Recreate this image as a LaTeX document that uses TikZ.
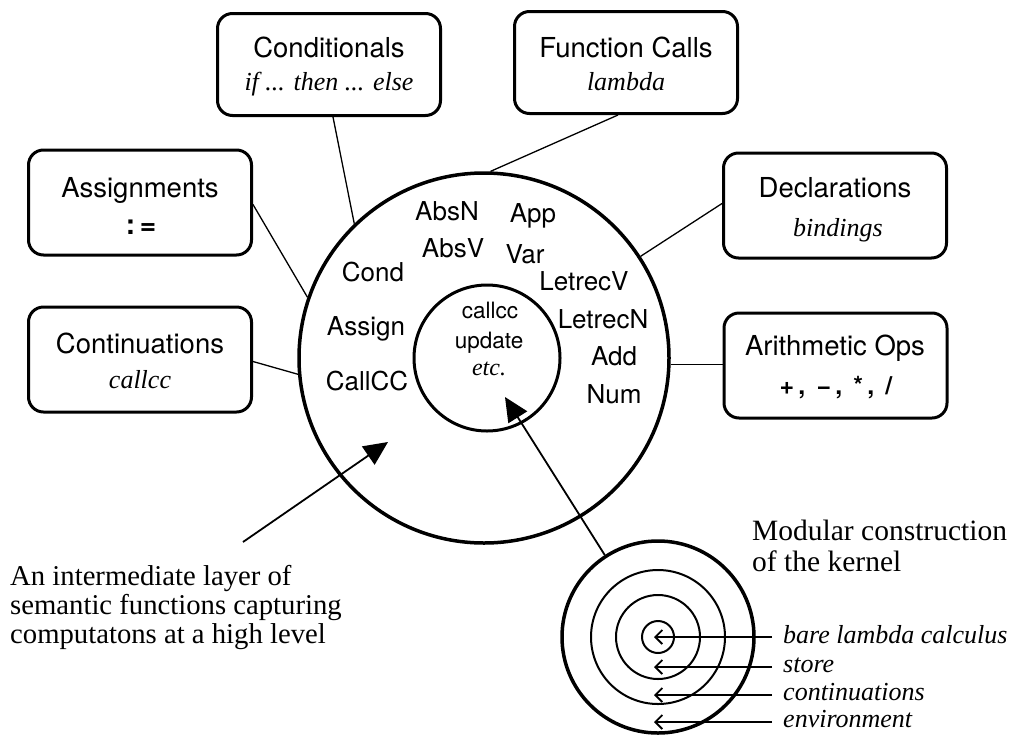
\documentclass[tikz,border=0pt]{standalone}
\usepackage{fontspec}
\setmainfont{Liberation Serif}
\setsansfont{TeX Gyre Heros}
\usetikzlibrary{arrows.meta}
\begin{document}
\begin{tikzpicture}[x=1pt,y=-1pt,
  kbox/.style={draw,line width=3pt,rounded corners=15pt,minimum width=223pt,minimum height=105pt,inner sep=0pt},
  ring/.style={circle,draw,inner sep=0pt},
  ttl/.style={font=\sffamily\fontsize{27.5}{30}\selectfont,anchor=base,inner sep=0pt},
  sub/.style={font=\itshape\fontsize{26}{30}\selectfont,anchor=base,inner sep=0pt},
  lay/.style={font=\sffamily\fontsize{26}{30}\selectfont,anchor=base,inner sep=0pt},
  core/.style={font=\sffamily\fontsize{22.5}{26}\selectfont,anchor=base,inner sep=0pt},
  link/.style={line width=1.3pt},
  bigarrow/.style={line width=1.8pt,-{Triangle[length=24pt,width=22pt]}},
  layarrow/.style={line width=1.8pt,-{Straight Barb[length=7pt,width=14pt]}},
  note/.style={font=\fontsize{29.5}{30}\selectfont,anchor=base west,inner sep=0pt},
  note2/.style={font=\fontsize{28.7}{30}\selectfont,anchor=base west,inner sep=0pt},
  layer/.style={font=\itshape\fontsize{26}{28}\selectfont,anchor=base west,inner sep=0pt}]
\useasboundingbox (0,0) rectangle (1011,734);

% main circles
\node[ring,line width=3.5pt,minimum size=370pt] (outer) at (484,358) {};
\node[ring,line width=3pt,minimum size=146pt] (inner) at (487,358) {};

% boxes
\node[kbox] (assign) at (140,202.5) {};
\node[kbox] (cont) at (140,359.5) {};
\node[kbox,minimum height=102pt] (cond) at (329,64.5) {};
\node[kbox,minimum height=102pt] (fc) at (626,62.5) {};
\node[kbox] (decl) at (835,205.5) {};
\node[kbox] (arith) at (835.5,365.5) {};

% box texts
\node[ttl] (assignT) at (140,197) {Assignments};
\node[ttl,font=\sffamily\bfseries\fontsize{28}{30}\selectfont] (assignS) at (141,234) {:\,=};
\node[ttl] (contT) at (140,353) {Continuations};
\node[sub] (contS) at (140,388) {callcc};
\node[ttl] (condT) at (329,57) {Conditionals};
\node[sub] (condS) at (329,90) {if ... then ... else};
\node[ttl] (fcT) at (626,57) {Function Calls};
\node[sub] (fcS) at (626,90) {lambda};
\node[ttl] (declT) at (835,197) {Declarations};
\node[sub] (declS) at (838,236) {bindings};
\node[ttl] (arithT) at (835,355) {Arithmetic Ops};
\node[ttl,font=\sffamily\bfseries\fontsize{25}{26}\selectfont] (arithS) at (836,394) {+\,,\;\,−\,,\;\,*\,,\;\,/};

% connectors
\draw[link] ([yshift=-2pt]assign.east) -- (outer.161.6);
\draw[link] ([yshift=-2pt]cont.east) -- (outer.185.3);
\draw[link] ([xshift=4pt]cond.south) -- (outer.134.8);
\draw[link] ([xshift=-8pt]fc.south) -- (outer.88.8);
\draw[link] ([yshift=2pt]decl.west) -- (outer.33.6);
\draw[link] (outer.-2.8) -- (outer.-2.8 -| arith.west);

% layer labels
\node[lay] (absn) at (447,220) {AbsN};
\node[lay] (app) at (533,222) {App};
\node[lay] (absv) at (453,257) {AbsV};
\node[lay] (var) at (525,263) {Var};
\node[lay] (condL) at (373,281) {Cond};
\node[lay] (letv) at (584,290) {LetrecV};
\node[lay] (assignL) at (366,335) {Assign};
\node[lay] (letn) at (603,328) {LetrecN};
\node[lay] (add) at (614,365) {Add};
\node[lay] (callL) at (367,390) {CallCC};
\node[lay] (num) at (614,403) {Num};

% core labels
\node[core] (c1) at (490,318) {callcc};
\node[core] (c2) at (489,348) {update};
\node[font=\itshape\fontsize{24}{26}\selectfont,anchor=base,inner sep=0pt] (c3) at (489,375) {etc.};

% kernel rings
\node[ring,line width=3.5pt,minimum size=192pt] (kern) at (658,637) {};
\node[ring,line width=2pt,minimum size=134pt] (k3) at (658,637) {};
\node[ring,line width=2pt,minimum size=84pt] (k2) at (658,637) {};
\node[ring,line width=2pt,minimum size=32pt] (k1) at (658,637) {};

% big arrows
\coordinate (a1s) at (243,542);
\coordinate (a1t) at (388,442);
\draw[bigarrow] (a1s) -- (a1t);
\coordinate (a2t) at (505,397);
\draw[bigarrow] (kern.123.7) -- (a2t);

% layer arrows
\coordinate (e1) at (772,637); \coordinate (t1) at (654,637);
\coordinate (e2) at (772,667); \coordinate (t2) at (654,667);
\coordinate (e3) at (772,695); \coordinate (t3) at (654,695);
\coordinate (e4) at (772,722); \coordinate (t4) at (654,722);
\draw[layarrow] (e1) -- (t1);
\draw[layarrow] (e2) -- (t2);
\draw[layarrow] (e3) -- (t3);
\draw[layarrow] (e4) -- (t4);
\node[layer] (l1) at (783,643) {bare lambda calculus};
\node[layer] (l2) at (783,672) {store};
\node[layer] (l3) at (783,700) {continuations};
\node[layer] (l4) at (783,727) {environment};

% notes
\node[note] (m1) at (752,540) {Modular construction};
\node[note] (m2) at (752,571) {of the kernel};
\node[note2] (n1) at (10,585) {An intermediate layer of};
\node[note2] (n2) at (10,614) {semantic functions capturing};
\node[note2] (n3) at (10,643) {computatons at a high level};
\end{tikzpicture}
\end{document}
